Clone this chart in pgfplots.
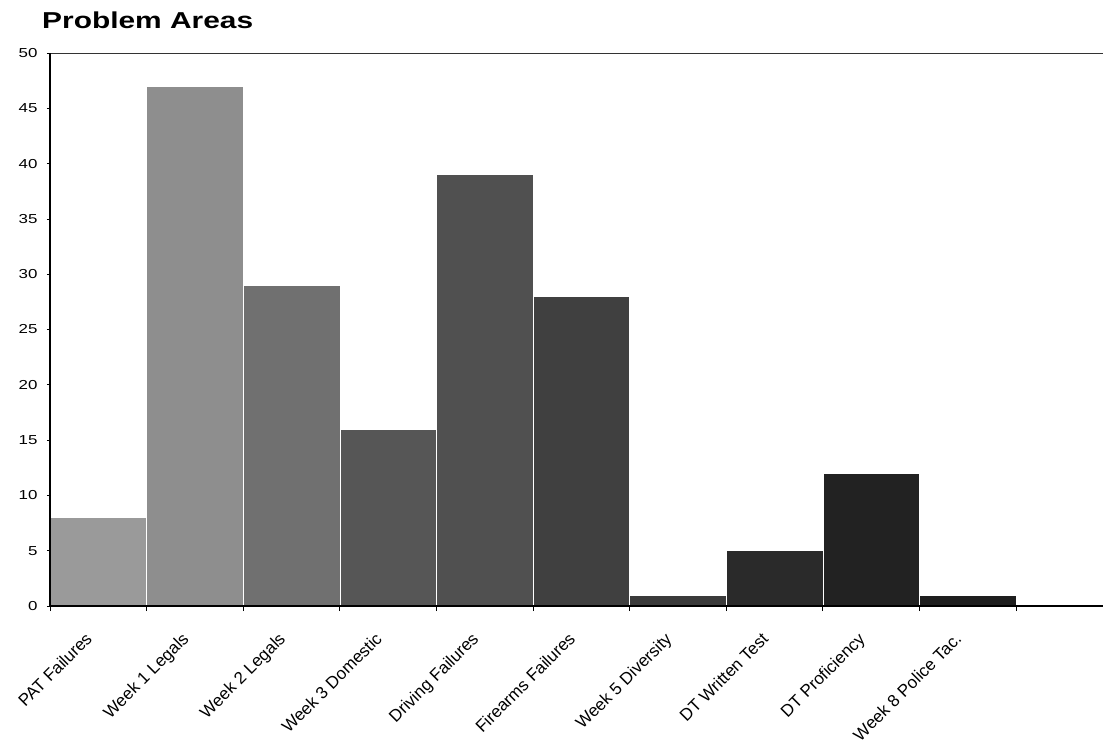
\documentclass[border=0pt]{standalone}
\usepackage{fontspec}
\setmainfont[FakeStretch=1.3]{Liberation Sans}
\newfontfamily\tickfont{Liberation Sans}
\usepackage{pgfplots}
\pgfplotsset{compat=1.18}
\definecolor{c0}{HTML}{9A9A9A}
\definecolor{c1}{HTML}{8E8E8E}
\definecolor{c2}{HTML}{707070}
\definecolor{c3}{HTML}{565656}
\definecolor{c4}{HTML}{505050}
\definecolor{c5}{HTML}{404040}
\definecolor{c6}{HTML}{3A3A3A}
\definecolor{c7}{HTML}{2A2A2A}
\definecolor{c8}{HTML}{222222}
\definecolor{c9}{HTML}{1E1E1E}
\begin{document}
\begin{tikzpicture}
\path[use as bounding box] (0,0) rectangle (1103pt,-746pt);
\node[anchor=base west, inner sep=0pt] at (42pt,-29pt) {\fontsize{23}{26}\selectfont\bfseries Problem Areas};
\begin{axis}[
  at={(50pt,-606pt)}, anchor=south west,
  width=1053pt, height=553pt, scale only axis,
  xmin=-0.5, xmax=10.4, ymin=0, ymax=50,
  axis x line*=bottom, axis y line*=left,
  axis line style={-},
  x axis line style={line width=1.8pt},
  y axis line style={line width=1.5pt},
  axis on top,
  ytick={0,5,...,50},
  xtick={0,...,9},
  xticklabels={PAT Failures, Week 1 Legals, Week 2 Legals, Week 3 Domestic, Driving Failures, Firearms Failures, Week 5 Diversity, DT Written Test, DT Proficiency, Week 8 Police Tac.},
  minor xtick={-0.5,0.5,...,9.5},
  major x tick style={draw=none},
  tick align=outside,
  major tick length=3pt,
  minor tick length=5pt,
  tick style={black, line width=0.8pt},
  /pgf/number format/assume math mode=true,
  yticklabel style={font=\fontsize{13}{15}\selectfont, xshift=-6pt},
  xticklabel style={font=\tickfont\fontsize{17}{19}\selectfont, xshift=-14pt, yshift=-22pt, rotate=45, anchor=north east, inner sep=0pt},
]
\addplot[ybar, bar width=1, bar shift=0pt, fill=c0, draw=white, line width=0.5pt] coordinates {(0,8)};
\addplot[ybar, bar width=1, bar shift=0pt, fill=c1, draw=white, line width=0.5pt] coordinates {(1,47)};
\addplot[ybar, bar width=1, bar shift=0pt, fill=c2, draw=white, line width=0.5pt] coordinates {(2,29)};
\addplot[ybar, bar width=1, bar shift=0pt, fill=c3, draw=white, line width=0.5pt] coordinates {(3,16)};
\addplot[ybar, bar width=1, bar shift=0pt, fill=c4, draw=white, line width=0.5pt] coordinates {(4,39)};
\addplot[ybar, bar width=1, bar shift=0pt, fill=c5, draw=white, line width=0.5pt] coordinates {(5,28)};
\addplot[ybar, bar width=1, bar shift=0pt, fill=c6, draw=white, line width=0.5pt] coordinates {(6,1)};
\addplot[ybar, bar width=1, bar shift=0pt, fill=c7, draw=white, line width=0.5pt] coordinates {(7,5)};
\addplot[ybar, bar width=1, bar shift=0pt, fill=c8, draw=white, line width=0.5pt] coordinates {(8,12)};
\addplot[ybar, bar width=1, bar shift=0pt, fill=c9, draw=white, line width=0.5pt] coordinates {(9,1)};
\draw[line width=0.8pt, black!80] (rel axis cs:0,1) -- (rel axis cs:1,1);
\end{axis}
\end{tikzpicture}
\end{document}
